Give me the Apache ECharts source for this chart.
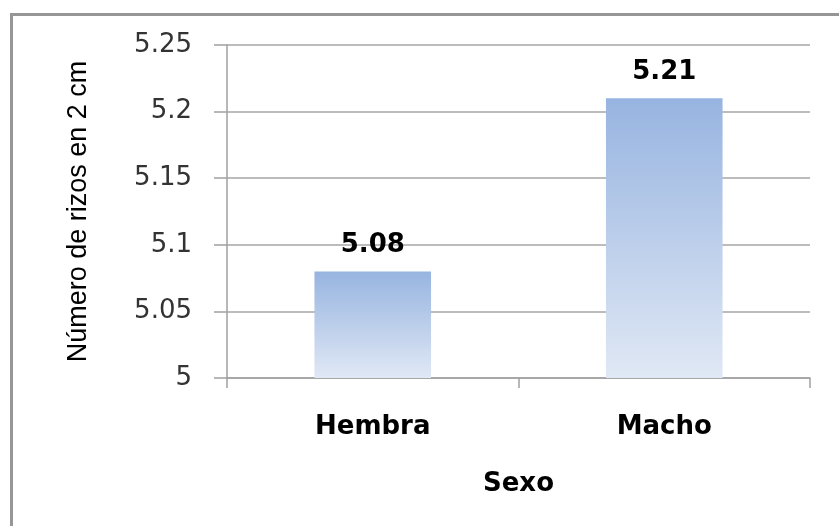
<!DOCTYPE html>
<html>
<head>
<meta charset="utf-8">
<script src="https://cdn.jsdelivr.net/npm/echarts@6/dist/echarts.min.js"></script>
<style>
  html, body { margin: 0; padding: 0; background: #ffffff; }
  #chart { width: 839px; height: 526px; }
</style>
</head>
<body>
<div id="chart"></div>
<script>
// Categories and mean values
const categories = ['Hembra', 'Macho'];
const values = [5.08, 5.21];

// Value axis range
const yMin = 5;
const yMax = 5.25;
const yStep = 0.05;

const xTitle = 'Sexo';
const yTitle = 'Número de rizos en 2 cm';

const chart = echarts.init(document.getElementById('chart'), null, { renderer: 'canvas' });

const barGradient = new echarts.graphic.LinearGradient(0, 0, 0, 1, [
  { offset: 0, color: '#97b4e0' },
  { offset: 1, color: '#e0e8f5' }
]);

chart.setOption({
  animation: false,
  backgroundColor: '#ffffff',
  graphic: [{
    type: 'rect',
    left: 9,
    top: 12,
    shape: { x: 0, y: 0, width: 900, height: 600 },
    style: { fill: 'none', stroke: '#969696', lineWidth: 3 },
    z: 100
  }],
  grid: { left: 227, right: 29, top: 45, bottom: 148, containLabel: false },
  xAxis: {
    type: 'category',
    data: categories,
    name: xTitle,
    nameLocation: 'middle',
    nameGap: 93,
    nameTextStyle: { fontFamily: 'DejaVu Sans', fontWeight: 'bold', fontSize: 26, color: '#000' },
    axisLine: { lineStyle: { color: '#a0a0a0', width: 1.5 } },
    axisTick: { show: true, length: 10, lineStyle: { color: '#a0a0a0', width: 1.5 } },
    axisLabel: { margin: 36, fontFamily: 'DejaVu Sans', fontWeight: 'bold', fontSize: 26, color: '#000' }
  },
  yAxis: {
    type: 'value',
    min: yMin,
    max: yMax,
    interval: yStep,
    name: yTitle,
    nameLocation: 'middle',
    nameGap: 135,
    nameTextStyle: { fontFamily: 'Liberation Sans', fontSize: 27, color: '#000' },
    axisLine: { show: true, lineStyle: { color: '#a0a0a0', width: 1.5 } },
    axisTick: { show: true, length: 13, lineStyle: { color: '#a0a0a0', width: 1.5 } },
    splitLine: { show: true, lineStyle: { color: '#a6a6a6', width: 1.5 } },
    axisLabel: { margin: 35, fontFamily: 'DejaVu Sans', fontSize: 26, color: '#333' }
  },
  series: [{
    type: 'bar',
    data: values,
    barWidth: '40%',
    itemStyle: { color: barGradient },
    label: {
      show: true,
      position: 'top',
      distance: 13,
      fontFamily: 'DejaVu Sans',
      fontWeight: 'bold',
      fontSize: 26,
      color: '#000',
      formatter: p => p.value.toFixed(2)
    }
  }]
});
</script>
</body>
</html>
